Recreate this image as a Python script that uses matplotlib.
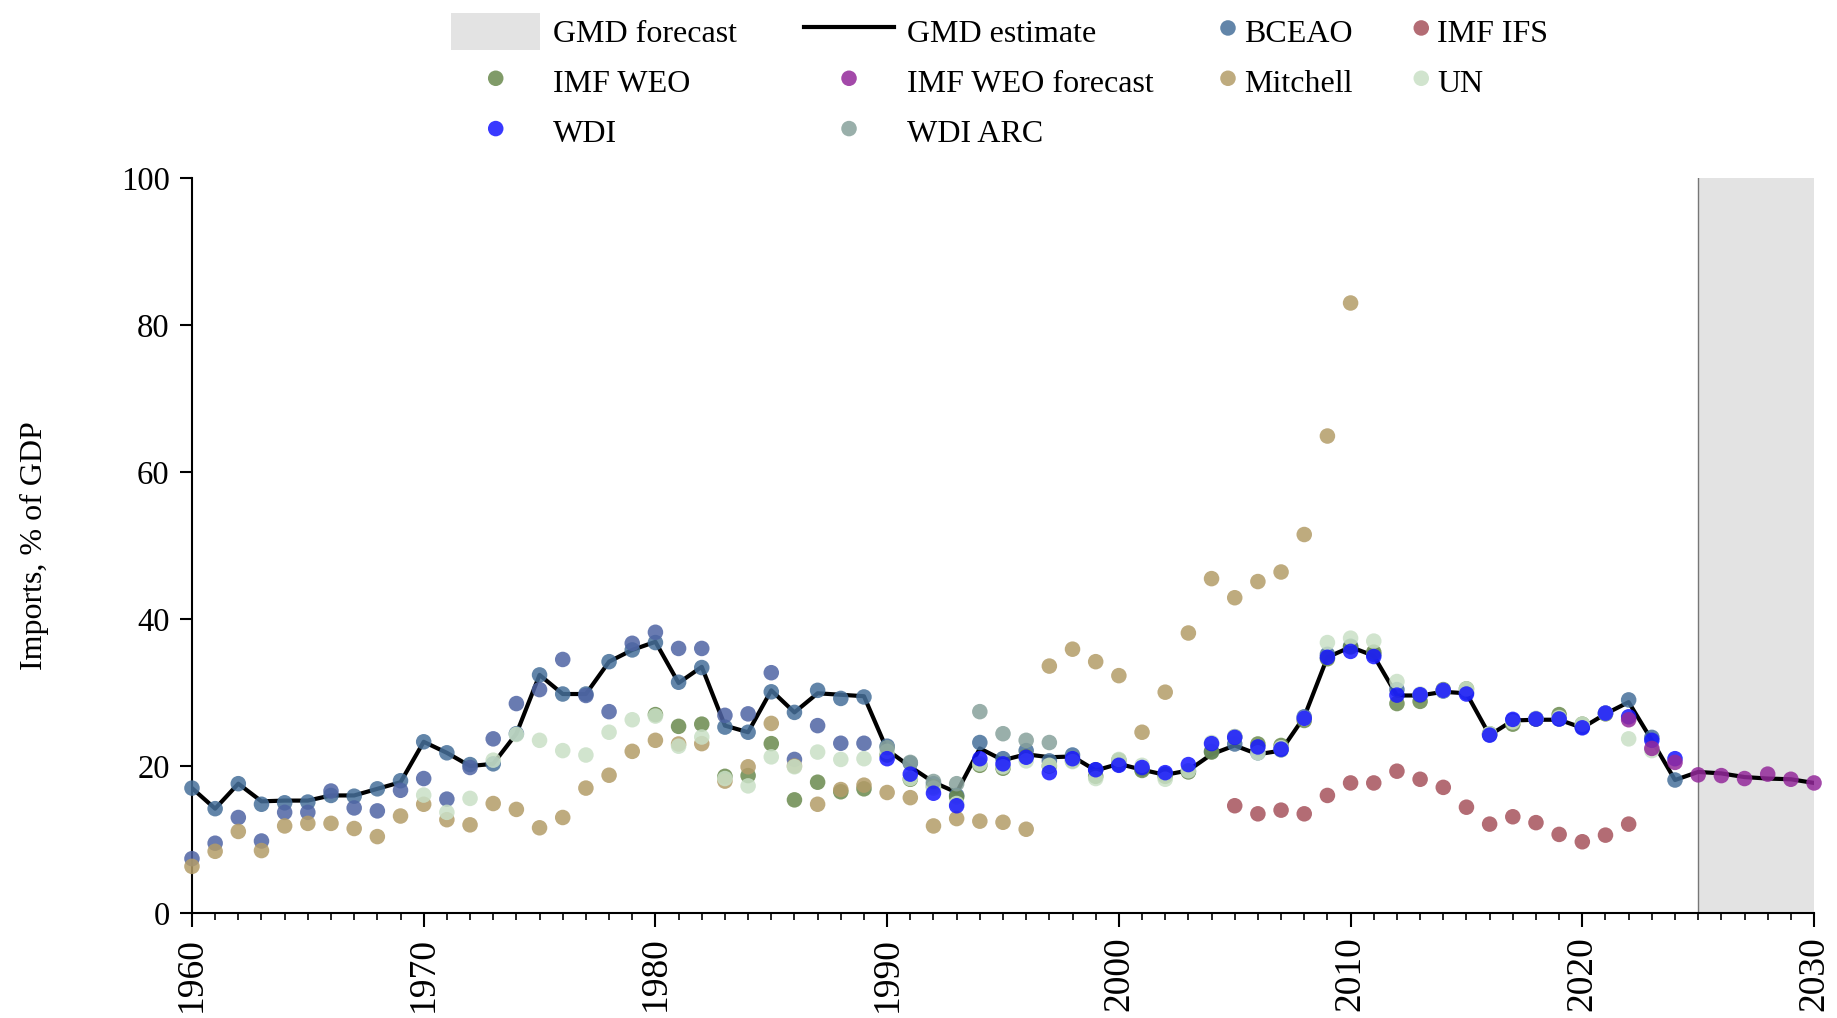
"""plot.py

Imports as a share of GDP, 1960-2030: GMD estimate line plus the source series
as scatter points, with the forecast window shaded.
"""

import matplotlib

matplotlib.use("Agg")
import matplotlib.pyplot as plt
from matplotlib.lines import Line2D
from matplotlib.patches import Patch

plt.rcParams["font.family"] = ["Liberation Serif", "DejaVu Serif"]

# ---------------------------------------------------------------- data
gmd_years = list(range(1960, 2031))
gmd_vals = [
    17.0, 14.2, 17.6, 15.2, 15.3, 15.3, 16.0, 16.0, 16.9, 17.8,
    23.3, 21.8, 20.0, 20.3, 24.4, 32.4, 29.8, 29.8, 34.2, 35.8,
    36.9, 31.3, 33.5, 25.5, 24.6, 30.3, 27.3, 29.9, 29.7, 29.5,
    22.2, 19.9, 17.8, 16.4, 22.4, 20.8, 21.6, 21.2, 21.3, 19.4,
    20.3, 19.5, 18.8, 19.4, 21.6, 22.8, 21.6, 22.1, 26.7, 34.8,
    36.2, 35.0, 29.6, 29.6, 30.1, 29.9, 24.2, 26.2, 26.3, 26.3,
    25.2, 27.1, 28.7, 23.5, 18.1, 19.2, 19.0, 18.5, 18.3, 18.2,
    17.7,
]

bceao_years = list(range(1960, 2025))
bceao_vals = [
    17.0, 14.2, 17.6, 14.8, 15.0, 15.1, 16.0, 15.9, 16.9, 18.0,
    23.3, 21.8, 20.2, 20.3, 24.4, 32.4, 29.8, 29.8, 34.2, 35.8,
    36.8, 31.4, 33.4, 25.3, 24.6, 30.1, 27.3, 30.3, 29.2, 29.4,
    22.7, 20.4, 17.6, 16.0, 23.2, 21.0, 22.1, 20.7, 21.5, 19.5,
    20.2, 19.6, 18.9, 19.3, 22.0, 23.0, 21.8, 22.2, 26.7, 35.2,
    36.3, 35.2, 30.4, 29.6, 30.2, 30.0, 24.3, 26.2, 26.4, 26.4,
    25.3, 27.2, 29.0, 23.9, 18.1,
]

# bluish dots drawn in the reference without a legend entry
extra_years = list(range(1960, 1990))
extra_vals = [
    7.4, 9.5, 13.0, 9.8, 13.7, 13.7, 16.6, 14.3, 13.9, 16.7,
    18.3, 15.5, 19.8, 23.7, 28.5, 30.4, 34.5, 29.6, 27.4, 36.7,
    38.2, 36.0, 36.0, 26.9, 27.1, 32.7, 20.9, 25.5, 23.1, 23.1,
]

ifs_years = list(range(2005, 2023))
ifs_vals = [
    14.6, 13.5, 14.0, 13.5, 16.0, 17.7, 17.7, 19.3, 18.2, 17.1,
    14.4, 12.1, 13.1, 12.3, 10.7, 9.7, 10.6, 12.1,
]

weo_years = list(range(1980, 2022))
weo_vals = [
    27.0, 25.4, 25.7, 18.6, 18.7, 23.05, 15.4, 17.8, 16.5, 16.9,
    21.5, 18.2, 17.2, 15.8, 20.1, 19.7, 21.3, 20.0, 20.7, 18.6,
    20.8, 19.4, 18.6, 19.2, 21.9, 24.0, 23.0, 22.8, 26.2, 34.6,
    36.2, 35.5, 28.5, 28.8, 30.4, 30.5, 24.4, 25.7, 26.4, 27.0,
    25.7, 27.1,
]

weo_fc_years = list(range(2022, 2031))
weo_fc_vals = [26.3, 22.4, 20.5, 18.8, 18.7, 18.3, 18.9, 18.2, 17.7]

mitchell_years = list(range(1960, 2011))
mitchell_vals = [
    6.35, 8.4, 11.1, 8.5, 11.85, 12.2, 12.2, 11.5, 10.4, 13.2,
    14.8, 12.7, 12.0, 14.9, 14.1, 11.6, 13.0, 17.0, 18.75, 22.0,
    23.5, 23.0, 23.05, 17.95, 19.9, 25.8, 20.0, 14.8, 16.8, 17.4,
    16.4, 15.7, 11.85, 12.85, 12.5, 12.35, 11.4, 33.6, 35.9, 34.2,
    32.3, 24.6, 30.05, 38.1, 45.5, 42.9, 45.1, 46.4, 51.5, 64.9,
    83.0,
]

un_years = list(range(1970, 2024))
un_vals = [
    16.05, 13.7, 15.6, 20.8, 24.3, 23.5, 22.1, 21.5, 24.6, 26.3,
    26.8, 22.7, 23.95, 18.3, 17.3, 21.25, 19.9, 21.9, 20.9, 21.0,
    22.0, 18.3, 17.0, 14.9, 20.3, 19.9, 20.7, 20.1, 20.6, 18.3,
    20.9, 20.1, 18.2, 19.35, 23.2, 24.0, 21.8, 22.5, 26.5, 36.8,
    37.4, 37.0, 31.5, 29.8, 30.3, 30.5, 24.4, 26.0, 26.5, 26.6,
    25.7, 27.2, 23.7, 22.1,
]

wdi_years = list(range(1990, 2025))
wdi_vals = [
    21.0, 18.9, 16.3, 14.6, 21.0, 20.3, 21.2, 19.1, 21.0, 19.5,
    20.1, 19.8, 19.1, 20.2, 23.05, 23.9, 22.6, 22.3, 26.5, 34.8,
    35.6, 34.9, 29.65, 29.7, 30.3, 29.8, 24.2, 26.35, 26.4, 26.4,
    25.2, 27.2, 26.7, 23.5, 21.0,
]

wdi_arc_years = list(range(1990, 1998))
wdi_arc_vals = [22.5, 20.5, 17.9, 17.6, 27.4, 24.4, 23.5, 23.2]

forecast_start = 2025
forecast_end = 2030

# ---------------------------------------------------------------- style
FORECAST_COLOR = "#e3e3e3"
DOT_SIZE = 125
DOT_ALPHA = 0.85


def dots(ax, years, vals, color, label):
    return ax.scatter(
        years, vals, s=DOT_SIZE, color=color, alpha=DOT_ALPHA,
        edgecolors="none", zorder=3, clip_on=False, label=label,
    )


def main() -> None:
    fig = plt.figure(figsize=(18.37, 10.18), dpi=100)
    ax = fig.add_axes([0.1045, 0.1031, 0.883, 0.7220])

    ax.axvspan(forecast_start, forecast_end, color=FORECAST_COLOR, lw=0, zorder=0)
    ax.axvline(forecast_start, color="#777777", lw=1.0, zorder=0.5)

    ax.plot(gmd_years, gmd_vals, color="black", lw=3.0, zorder=2)

    h_bceao = dots(ax, bceao_years, bceao_vals, "#46709a", "BCEAO")
    dots(ax, extra_years, extra_vals, "#4f64a4", "_nolegend_")
    h_ifs = dots(ax, ifs_years, ifs_vals, "#a6525c", "IMF IFS")
    h_weo = dots(ax, weo_years, weo_vals, "#6a8a4e", "IMF WEO")
    h_mitchell = dots(ax, mitchell_years, mitchell_vals, "#b39c68", "Mitchell")
    h_un = dots(ax, un_years, un_vals, "#c9e0c6", "UN")
    h_wdi_arc = dots(ax, wdi_arc_years, wdi_arc_vals, "#87a19b", "WDI ARC")
    h_wdi = dots(ax, wdi_years, wdi_vals, "#1616ff", "WDI")
    h_weo_fc = dots(ax, weo_fc_years, weo_fc_vals, "#93299a", "IMF WEO forecast")

    # axes
    ax.set_xlim(1960, 2030)
    ax.set_ylim(0, 100)
    for side in ("top", "right"):
        ax.spines[side].set_visible(False)
    for side in ("left", "bottom"):
        ax.spines[side].set_linewidth(1.5)

    ax.set_xticks(range(1960, 2031, 10))
    ax.set_xticks(range(1960, 2031), minor=True)
    ax.set_yticks(range(0, 101, 20))
    ax.tick_params(axis="x", which="major", length=10, width=1.5, labelsize=27,
                   labelrotation=90, pad=7)
    ax.tick_params(axis="x", which="minor", length=5, width=1.2)
    ax.tick_params(axis="y", which="major", length=9, width=1.5, labelsize=23.5, pad=7)

    ax.set_ylabel("Imports, % of GDP", fontsize=23)
    ax.yaxis.set_label_coords(-0.088, 0.5)

    # legend: two blocks so the marker-only columns stay compact
    h_fc = Patch(facecolor=FORECAST_COLOR, edgecolor="none")
    h_line = Line2D([], [], color="black", lw=3.0)
    common = dict(
        loc="upper left", frameon=False, fontsize=23, handleheight=1.4,
        labelspacing=0.42, borderpad=0, borderaxespad=0, scatterpoints=1,
    )
    fig.legend(
        [h_fc, h_weo, h_wdi, h_line, h_weo_fc, h_wdi_arc],
        ["GMD forecast", "IMF WEO", "WDI", "GMD estimate", "IMF WEO forecast", "WDI ARC"],
        ncol=2, bbox_to_anchor=(451 / 1837, 0.9875), handlelength=2.8,
        handletextpad=0.4, columnspacing=2.1, **common,
    )
    fig.legend(
        [h_bceao, h_mitchell, h_ifs, h_un],
        ["BCEAO", "Mitchell", "IMF IFS", "UN"],
        ncol=2, bbox_to_anchor=(1220 / 1837, 0.9875), handlelength=0.5,
        handletextpad=0.25, columnspacing=1.9, **common,
    )

    fig.savefig("out.png", dpi=100)
    plt.close(fig)


if __name__ == "__main__":
    main()
